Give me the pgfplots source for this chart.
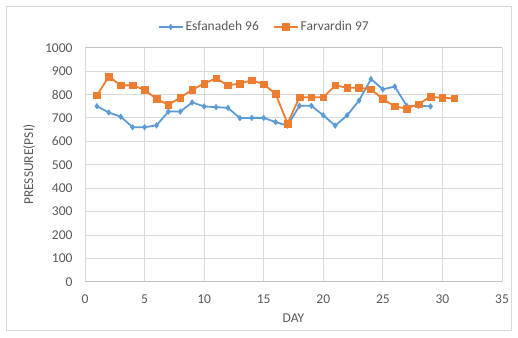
\documentclass[border=0pt]{standalone}
\usepackage{pgfplots}
\pgfplotsset{compat=1.18}
\usepackage{fontspec}
\setmainfont{Carlito}
\definecolor{seriesblue}{HTML}{5B9BD5}
\definecolor{seriesorange}{HTML}{ED7D31}
\definecolor{gridgray}{HTML}{D9D9D9}
\definecolor{textgray}{HTML}{595959}

\pgfplotstableread{
day pressure
1 750
2 723
3 705
4 660
5 660
6 668
7 727
8 727
9 766
10 749
11 746
12 743
13 699
14 700
15 700
16 682
17 667
18 752
19 752
20 711
21 667
22 711
23 774
24 866
25 822
26 834
27 752
28 752
29 749
}\esfanadeh

\pgfplotstableread{
day pressure
1 796
2 877
3 839
4 839
5 820
6 781
7 756
8 787
9 820
10 847
11 869
12 839
13 847
14 861
15 844
16 802
17 676
18 788
19 788
20 788
21 839
22 829
23 829
24 822
25 781
26 749
27 740
28 759
29 791
30 785
31 784
}\farvardin

\begin{document}
\begin{tikzpicture}[x=1pt,y=1pt]
\useasboundingbox (0,0) rectangle (518,337);
\draw[gridgray, line width=0.8pt] (6.5,6.5) rectangle (511.5,330.5);
\begin{axis}[
  at={(85pt,55.3pt)}, anchor=south west,
  scale only axis, width=417pt, height=234pt,
  xmin=0, xmax=35, ymin=0, ymax=1000,
  xtick={0,5,...,35}, ytick={0,100,...,1000},
  grid=major,
  major grid style={gridgray, line width=0.8pt},
  separate axis lines,
  x axis line style={gridgray!75!gray, line width=0.8pt},
  y axis line style={draw=none},
  major tick length=0pt,
  tick label style={font=\fontsize{13.5}{15}\selectfont, text=textgray},
  /pgf/number format/assume math mode=true,
  /pgf/number format/1000 sep={},
  yticklabel style={xshift=-9pt},
  xticklabel style={yshift=-10pt},
  xlabel={DAY}, ylabel={PRESSURE(PSI)},
  label style={font=\fontsize{13.5}{15}\selectfont, text=textgray},
  xlabel style={at={(axis description cs:0.5,0)}, anchor=center, yshift=-36.3pt},
  ylabel style={at={(axis description cs:0,0.5)}, anchor=center, yshift=56pt},
  legend style={at={(0.43,1.0)}, anchor=center, yshift=20.7pt, draw=none, fill=none,
    font=\fontsize{13.5}{15}\selectfont, text=textgray,
    /tikz/every even column/.append style={column sep=12pt},
    /tikz/every odd column/.append style={inner sep=1pt},
    legend cell align=left},
  legend image code/.code={
    \draw[mark repeat=2, mark phase=2] plot coordinates {(0pt,0pt) (12pt,0pt) (24pt,0pt)};
  },
  legend columns=2,
  clip=false,
]
\addplot[seriesblue, line width=1.8pt, mark=diamond*, mark size=2.8pt,
  mark options={line width=0.5pt, fill=seriesblue}] table[x=day, y=pressure] {\esfanadeh};
\addlegendentry{Esfanadeh 96}
\addplot[seriesorange, line width=1.8pt, mark=square*, mark size=3.3pt,
  mark options={line width=0.5pt, fill=seriesorange}] table[x=day, y=pressure] {\farvardin};
\addlegendentry{Farvardin 97}
\end{axis}
\end{tikzpicture}
\end{document}
